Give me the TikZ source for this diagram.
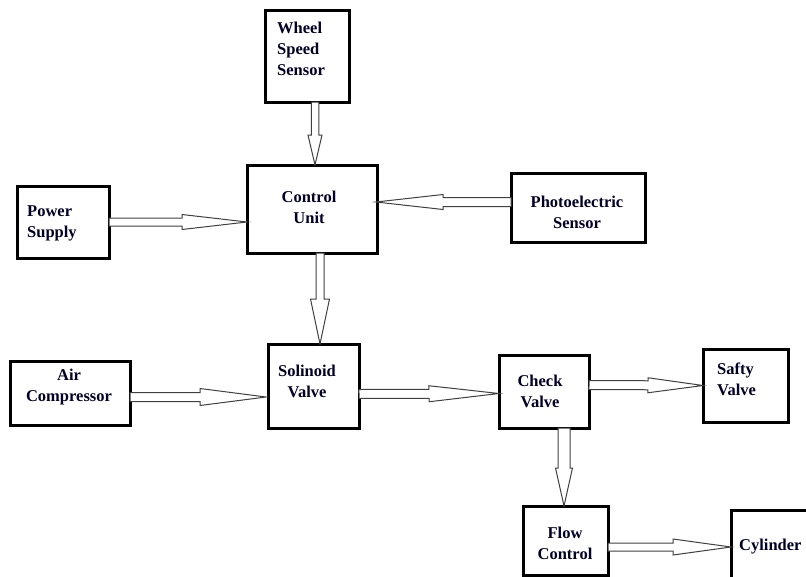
\documentclass[tikz,border=0pt]{standalone}
\usepackage{fontspec}
\setmainfont{Liberation Serif}
\usetikzlibrary{calc}
\tikzset{
 box/.style={draw=black, line width=3pt, fill=white, inner sep=0pt, outer sep=0pt},
 txt/.style={font=\fontsize{16.5}{21}\selectfont\bfseries, inner sep=0pt, text=black!85!blue},
 barr/.style={draw=black!75, line width=1pt, fill=white, line join=miter},
}
\newcommand\barrow[5]{%
 \coordinate (bs) at (#1); \coordinate (be) at (#2);
 \coordinate (bh) at ($(be)!#3pt!(bs)$);
 \draw[barr] ($(bs)!#4pt!90:(be)$) -- ($(bh)!#4pt!-90:(bs)$) -- ($(bh)!#5pt!-90:(bs)$) -- (be)
   -- ($(bh)!#5pt!90:(bs)$) -- ($(bh)!#4pt!90:(bs)$) -- ($(bs)!#4pt!-90:(be)$) -- cycle;
}
\begin{document}
\begin{tikzpicture}[x=1pt,y=-1pt]
\useasboundingbox (0,0) rectangle (806,576);
\clip (0,0) rectangle (806,576);
% boxes
\node[box, minimum width=84pt, minimum height=92pt] (ws) at (307,56) {};
\node[box, minimum width=130pt, minimum height=88pt] (cu) at (312,209) {};
\node[box, minimum width=92pt, minimum height=72pt] (ps) at (63,222) {};
\node[box, minimum width=134pt, minimum height=69pt] (pe) at (578,207.5) {};
\node[box, minimum width=91pt, minimum height=84pt] (sv) at (313.5,386) {};
\node[box, minimum width=120pt, minimum height=64pt] (ac) at (70,393) {};
\node[box, minimum width=90pt, minimum height=73pt] (cv) at (544,391.5) {};
\node[box, minimum width=85pt, minimum height=73pt] (sf) at (745.5,385.5) {};
\node[box, minimum width=85pt, minimum height=69pt] (fc) at (565.5,540.5) {};
\node[box, minimum width=120pt, minimum height=74pt] (cy) at (791,547) {};
% texts
\node[txt, align=left, anchor=west] at (277,48.5) {Wheel\\Speed\\Sensor};
\node[txt, align=center] at (309,207.5) {Control\\Unit};
\node[txt, align=left, anchor=west] at (27,223.5) {Power\\Supply};
\node[txt, align=center] at (577,212.5) {Photoelectric\\Sensor};
\node[txt, align=center] at (307,381) {Solinoid\\Valve};
\node[txt, align=center] at (69,387) {Air\\Compressor};
\node[txt, align=center] at (540,391.5) {Check\\Valve};
\node[txt, align=left, anchor=west] at (717,379.5) {Safty\\Valve};
\node[txt, align=center] at (565,543) {Flow\\Control};
\node[txt, anchor=west] at (739,547) {Cylinder};
% arrows
\barrow{$(ws.south)+(8,0)$}{$(cu.north)+(3,0)$}{30}{3.75}{7}
\barrow{$(pe.west)+(0,-5.5)$}{$(cu.east)+(-1,-7)$}{67}{4.5}{7.5}
\barrow{$(ps.east)+(0,0)$}{$(cu.west)+(0,13)$}{65}{4}{7.5}
\barrow{$(cu.south)+(8,0)$}{$(sv.north)+(6.5,0)$}{45}{4}{9.5}
\barrow{$(ac.east)+(0,4)$}{$(sv.west)+(-2,11)$}{66}{4.5}{8.5}
\barrow{$(sv.east)+(0,8)$}{$(cv.west)+(0,2)$}{70}{4.5}{8}
\barrow{$(cv.east)+(0,-6.5)$}{$(sf.west)+(0,0)$}{55}{4.5}{7.5}
\barrow{$(cv.south)+(20,0)$}{$(fc.north)+(-1.5,0)$}{38}{6}{8.5}
\barrow{$(fc.east)+(0,6.5)$}{$(cy.west)+(0,0)$}{58}{4}{8}
\end{tikzpicture}
\end{document}
